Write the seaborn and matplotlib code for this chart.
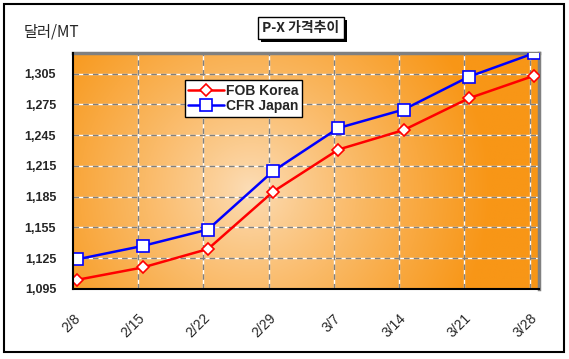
import numpy as np
import pandas as pd
import seaborn as sns
import matplotlib.pyplot as plt
from matplotlib.patches import Rectangle
from matplotlib import patheffects

# weekly P-X prices (USD/MT)
dates = ["2008-02-08", "2008-02-15", "2008-02-22", "2008-02-29",
         "2008-03-07", "2008-03-14", "2008-03-21", "2008-03-28"]
tick_labels = ["2/8", "2/15", "2/22", "2/29", "3/7", "3/14", "3/21", "3/28"]
fob_korea = [1104, 1116, 1134, 1190, 1231, 1250, 1281, 1303]
cfr_japan = [1124, 1137, 1153, 1210, 1252, 1270, 1302, 1325]
y_ticks = [1095, 1125, 1155, 1185, 1215, 1245, 1275, 1305]

sns.set_style("white")
plt.rcParams['font.family'] = ['Liberation Sans', 'Noto Sans CJK KR', 'DejaVu Sans']

d = pd.to_datetime(dates)
day = (d - d[0]).days.values
df = pd.DataFrame({"x": day + 0.5, "fob": fob_korea, "cfr": cfr_japan})

fig = plt.figure(figsize=(5.69, 3.59), dpi=100)
ax = fig.add_axes([0.128, 0.195, 0.819, 0.657])

# radial gradient background
gx, gy = np.meshgrid(np.linspace(0, 1, 300), np.linspace(0, 1, 200))
r = np.sqrt(((gx - 0.38) * 466) ** 2 + ((gy - 0.42) * 236) ** 2) / 240
r = np.clip(r, 0, 1) ** 0.85
c0 = np.array([252, 222, 185]) / 255
c1 = np.array([248, 150, 22]) / 255
img = c0 + (c1 - c0) * r[..., None]
ax.imshow(img, extent=[0, 1, 0, 1], transform=ax.transAxes, origin="lower",
          aspect="auto", zorder=0)

sns.lineplot(data=df, x="x", y="fob", ax=ax, color="#ff0000", lw=1.8,
             marker="D", markersize=6.5, markerfacecolor="white",
             markeredgecolor="#ff0000", markeredgewidth=1.2, label="FOB Korea", zorder=4)
sns.lineplot(data=df, x="x", y="cfr", ax=ax, color="#0000ff", lw=1.8,
             marker="s", markersize=8, markerfacecolor="white",
             markeredgecolor="#0000ff", markeredgewidth=1.2, label="CFR Japan", zorder=4)

ax.set_xlim(0, 50)
ax.set_ylim(1095, 1325)
ax.set_xticks(day)
ax.set_xticklabels(tick_labels, rotation=45, ha="right", rotation_mode="anchor",
                   fontsize=10)
ax.set_yticks(y_ticks)
ax.set_yticklabels([f"{v:,}" for v in y_ticks], fontsize=9, fontweight="bold")
ax.tick_params(axis="x", pad=16, length=0)
ax.tick_params(axis="y", pad=12, length=0)
ax.set_xlabel("")
ax.set_ylabel("")

for v in y_ticks[1:]:
    ax.axhline(v, color="white", lw=1, zorder=1)
    ax.axhline(v, color="#808080", lw=1, ls=(0, (4, 3)), zorder=1.5)
for v in day[1:]:
    ax.axvline(v, color="white", lw=1, zorder=1)
    ax.axvline(v, color="#808080", lw=1, ls=(0, (4, 3)), zorder=1.5)

for s in ["top", "right"]:
    ax.spines[s].set_color("#808080")
    ax.spines[s].set_linewidth(2.5)
for s in ["left", "bottom"]:
    ax.spines[s].set_color("black")
    ax.spines[s].set_linewidth(1.5)
    ax.spines[s].set_zorder(5)

leg = ax.legend(loc="upper left", bbox_to_anchor=(0.24, 0.885), borderaxespad=0,
                frameon=True, fancybox=False, edgecolor="black", framealpha=1,
                prop={"size": 10, "weight": "bold"}, handlelength=2.6,
                handletextpad=0.1, borderpad=0.25, labelspacing=0.1)
leg.get_frame().set_linewidth(1)

# title box with shadow
t = fig.text(0.529, 0.922, "P-X 가격추이", ha="center", va="center", fontsize=10,
             fontweight="bold", family=["Noto Sans CJK KR", "DejaVu Sans"],
             bbox=dict(boxstyle="square,pad=0.3", fc="white", ec="black", lw=1))
t.get_bbox_patch().set_path_effects([
    patheffects.SimplePatchShadow(offset=(2, -2), shadow_rgbFace="black", alpha=1),
    patheffects.Normal()])
fig.text(0.042, 0.91, "달러/MT", ha="left", va="center", fontsize=11,
         family=["Noto Sans CJK KR", "DejaVu Sans"])

# outer frame
fig.patches.append(Rectangle((0.007, 0.02), 0.985, 0.968, transform=fig.transFigure,
                             fill=False, ec="black", lw=1.5))

fig.savefig("out.png", dpi=100)
